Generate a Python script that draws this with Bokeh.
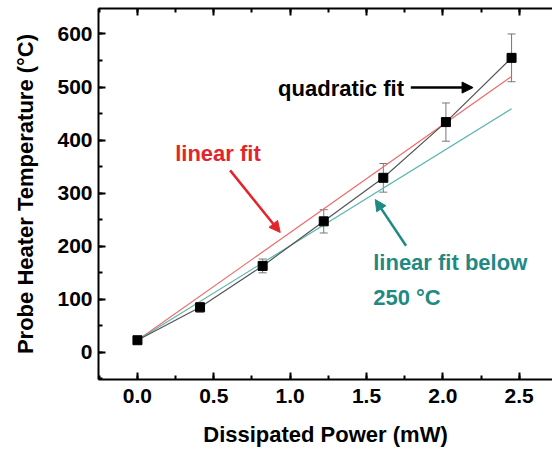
from bokeh.plotting import figure
from bokeh.models import (ColumnDataSource, Whisker, TeeHead, Label, Arrow, NormalHead,
                          LinearAxis, SingleIntervalTicker, PrintfTickFormatter,
                          CustomJSTickFormatter)
from bokeh.embed import file_html
from bokeh.resources import INLINE

# ---- data ----
power = [0.0, 0.41, 0.82, 1.22, 1.61, 2.02, 2.45]
temp = [23, 85, 163, 247, 329, 434, 555]
err = [4, 9, 13, 22, 27, 36, 45]

lin_x = [0.0, 2.45]
lin_y = [23, 520]
low_x = [0.0, 2.45]
low_y = [23, 459]

FONT = "Liberation Sans"
RED = "#e3242b"
TEAL = "#1f8a84"

p = figure(width=552, height=450, x_range=(-0.255, 2.718), y_range=(-51, 648),
           output_backend="svg", toolbar_location=None,
           min_border_left=98, min_border_right=0, min_border_top=8, min_border_bottom=71)
p.xgrid.visible = False
p.ygrid.visible = False
p.outline_line_color = None
p.background_fill_color = "white"
p.border_fill_color = "white"

src = ColumnDataSource(dict(x=power, y=temp,
                            lo=[t - e for t, e in zip(temp, err)],
                            hi=[t + e for t, e in zip(temp, err)]))

p.line(lin_x, lin_y, line_color="#f06a6a", line_width=1.2)
p.line(low_x, low_y, line_color="#5cb5ae", line_width=1.2)
p.line("x", "y", source=src, line_color="#555555", line_width=1.2)

wh = Whisker(source=src, base="x", upper="hi", lower="lo", line_color="#777777", line_width=1,
             upper_head=TeeHead(size=8, line_color="#777777", line_width=1),
             lower_head=TeeHead(size=8, line_color="#777777", line_width=1))
p.add_layout(wh)
p.scatter("x", "y", source=src, marker="square", size=9, fill_color="black", line_color="black")

def style_axis(ax):
    ax.axis_line_width = 2
    ax.axis_line_color = "black"
    ax.major_tick_in = 7
    ax.major_tick_out = 0
    ax.minor_tick_in = 4
    ax.minor_tick_out = 0
    ax.major_tick_line_width = 2
    ax.minor_tick_line_width = 2
    ax.major_label_text_font = FONT
    ax.major_label_text_font_style = "bold"
    ax.major_label_text_font_size = "21px"
    ax.major_label_text_color = "black"
    ax.axis_label_text_font = FONT
    ax.axis_label_text_font_style = "bold"
    ax.axis_label_text_font_size = "22px"
    ax.axis_label_text_color = "black"

p.xaxis.ticker = SingleIntervalTicker(interval=0.5, num_minor_ticks=2)
p.yaxis.ticker = SingleIntervalTicker(interval=100, num_minor_ticks=2)
p.xaxis.formatter = PrintfTickFormatter(format="%.1f")
p.xaxis.axis_label = "Dissipated Power (mW)"
p.yaxis.axis_label = "Probe Heater Temperature (°C)"
style_axis(p.xaxis[0])
style_axis(p.yaxis[0])
p.xaxis.major_label_standoff = 9
p.yaxis.major_label_standoff = 6
p.xaxis.axis_label_standoff = 16
p.yaxis.axis_label_standoff = 16

top = LinearAxis(ticker=SingleIntervalTicker(interval=0.5, num_minor_ticks=2),
                 formatter=CustomJSTickFormatter(code="return ''"))
style_axis(top)
top.major_label_standoff = 0
p.add_layout(top, "above")

def label(x, y, text, color):
    p.add_layout(Label(x=x, y=y, text=text, text_font=FONT, text_font_style="bold",
                       text_font_size="22px", text_color=color, text_baseline="middle"))

label(0.921, 497, "quadratic fit", "black")
label(0.247, 375, "linear fit", RED)
label(1.544, 170, "linear fit below", TEAL)
label(1.544, 104, "250 °C", TEAL)

p.add_layout(Arrow(x_start=1.79, y_start=499, x_end=2.198, y_end=499, line_width=2.5,
                   line_color="black",
                   end=NormalHead(size=11, fill_color="black", line_color="black")))
p.add_layout(Arrow(x_start=0.607, y_start=343, x_end=0.935, y_end=226, line_width=2.5,
                   line_color=RED,
                   end=NormalHead(size=11, fill_color=RED, line_color=RED)))
p.add_layout(Arrow(x_start=1.759, y_start=201, x_end=1.557, y_end=288, line_width=2.5,
                   line_color=TEAL,
                   end=NormalHead(size=11, fill_color=TEAL, line_color=TEAL)))

open("out.html", "w").write(file_html(p, INLINE))
